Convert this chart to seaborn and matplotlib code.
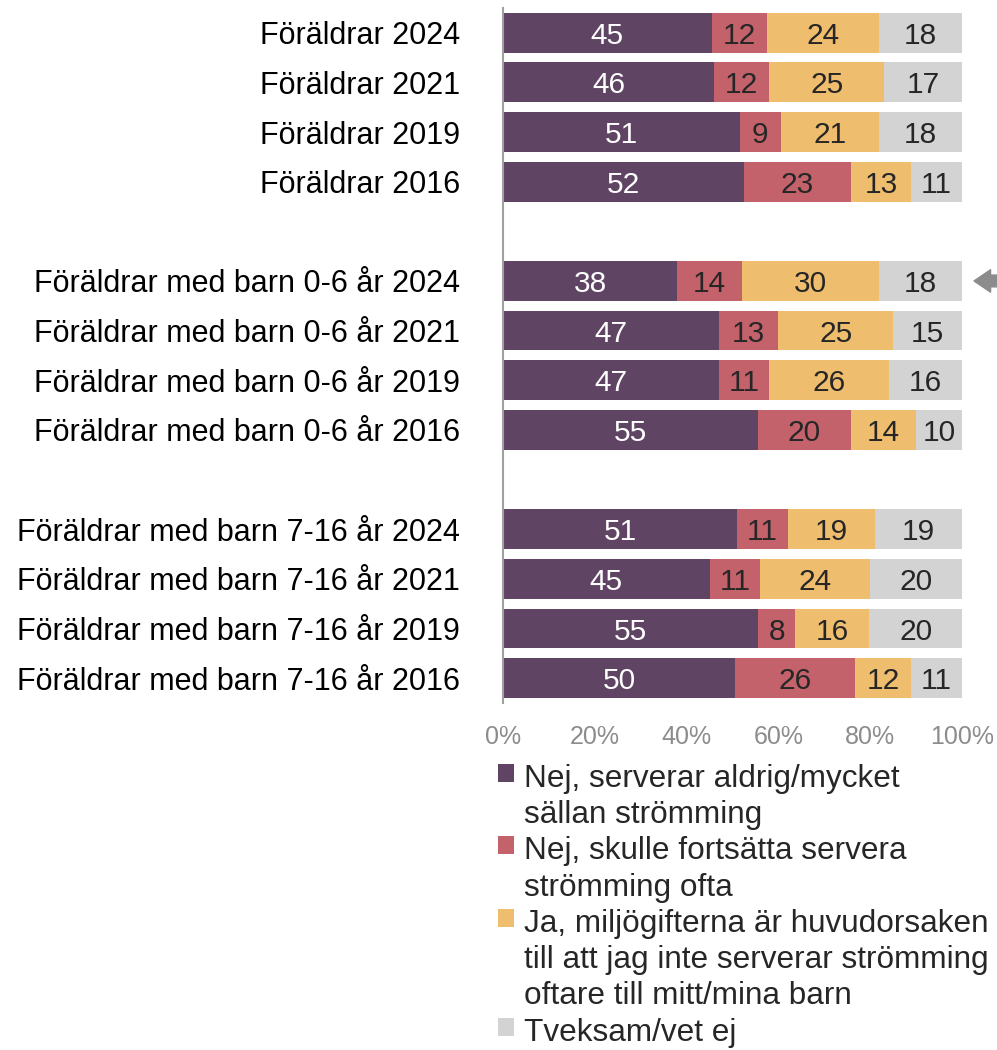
import numpy as np
import pandas as pd
import matplotlib
matplotlib.use("Agg")
import matplotlib.pyplot as plt
import seaborn as sns

# rows, top to bottom
groups = ["Föräldrar 2024", "Föräldrar 2021", "Föräldrar 2019", "Föräldrar 2016",
          "Föräldrar med barn 0-6 år 2024", "Föräldrar med barn 0-6 år 2021",
          "Föräldrar med barn 0-6 år 2019", "Föräldrar med barn 0-6 år 2016",
          "Föräldrar med barn 7-16 år 2024", "Föräldrar med barn 7-16 år 2021",
          "Föräldrar med barn 7-16 år 2019", "Föräldrar med barn 7-16 år 2016"]
nej_aldrig = [45, 46, 51, 52, 38, 47, 47, 55, 51, 45, 55, 50]
nej_ofta = [12, 12, 9, 23, 14, 13, 11, 20, 11, 11, 8, 26]
ja_miljo = [24, 25, 21, 13, 30, 25, 26, 14, 19, 24, 16, 12]
tveksam = [18, 17, 18, 11, 18, 15, 16, 10, 19, 20, 20, 11]

series_names = ["Nej, serverar aldrig/mycket\nsällan strömming",
                "Nej, skulle fortsätta servera\nströmming ofta",
                "Ja, miljögifterna är huvudorsaken\ntill att jag inte serverar strömming\noftare till mitt/mina barn",
                "Tveksam/vet ej"]
colors = ["#604464", "#C4626C", "#EFBD6E", "#D3D3D3"]
text_colors = ["white", "#262626", "#262626", "#262626"]
xticks = [0, 20, 40, 60, 80, 100]
xtick_labels = ["0%", "20%", "40%", "60%", "80%", "100%"]
highlight = "Föräldrar med barn 0-6 år 2024"

sns.set_style("white")
plt.rcParams["font.family"] = ["Liberation Sans", "DejaVu Sans"]

vals = np.array([nej_aldrig, nej_ofta, ja_miljo, tveksam], dtype=float)
shares = vals / vals.sum(axis=0) * 100
cum = np.cumsum(shares, axis=0)

df = pd.DataFrame({"grupp": groups})
for i in range(4):
    df[f"cum{i}"] = cum[i]

order = groups[:4] + [" "] + groups[4:8] + ["  "] + groups[8:]

fig = plt.figure(figsize=(9.97, 10.5), dpi=100)
ax = fig.add_axes([0.5045, 0.3305, 0.4605, 0.662])

# stacked bars: draw cumulative totals from the largest down
for i in range(3, -1, -1):
    sns.barplot(data=df, x=f"cum{i}", y="grupp", order=order, orient="y",
                color=colors[i], width=0.8, saturation=1, ax=ax,
                label=series_names[i], linewidth=0)
handles, labels = ax.get_legend_handles_labels()
if ax.get_legend() is not None:
    ax.get_legend().remove()

pos = {g: order.index(g) for g in groups}
for j, g in enumerate(groups):
    for i in range(4):
        left = cum[i, j] - shares[i, j]
        ax.text(left + shares[i, j] / 2, pos[g], str(int(vals[i, j])),
                ha="center", va="center_baseline", fontsize=21.5, color=text_colors[i])

ax.set_xlim(0, 100)
ax.set_ylim(len(order) - 0.5, -0.5)
ax.set_xticks(xticks)
ax.set_xticklabels(xtick_labels, fontsize=18, color="#8C8C8C")
ax.tick_params(axis="y", length=0, labelsize=22, pad=31, labelcolor="black")
ax.tick_params(axis="x", length=0, pad=16)
ax.set_xlabel("")
ax.set_ylabel("")
for s in ["top", "right", "bottom"]:
    ax.spines[s].set_visible(False)
ax.spines["left"].set_color("#A0A0A0")
ax.spines["left"].set_linewidth(1.5)

# arrow pointing at the highlighted row
ax.annotate("", xy=(102.6, pos[highlight]), xytext=(107.8, pos[highlight]),
            xycoords="data", annotation_clip=False,
            arrowprops=dict(arrowstyle="simple,head_length=0.7,head_width=0.95,tail_width=0.5",
                            color="#8C8C8C", mutation_scale=17, shrinkA=0, shrinkB=0))

lut = dict(zip(labels, handles))
leg = fig.legend([lut[n] for n in series_names], series_names,
                 loc="upper left", bbox_to_anchor=(0.4835, 0.2875), frameon=False,
                 fontsize=22.7, handlelength=0.5, handleheight=0.5, handletextpad=0.33,
                 labelspacing=0.2, borderpad=0, labelcolor="#262626")
for t in leg.get_texts():
    t.set_linespacing(1.27)
# put each square next to the first line of its entry
for col in leg._legend_handle_box.get_children():
    for row in col.get_children():
        row.align = "top"

fig.savefig("out.png", dpi=100)
